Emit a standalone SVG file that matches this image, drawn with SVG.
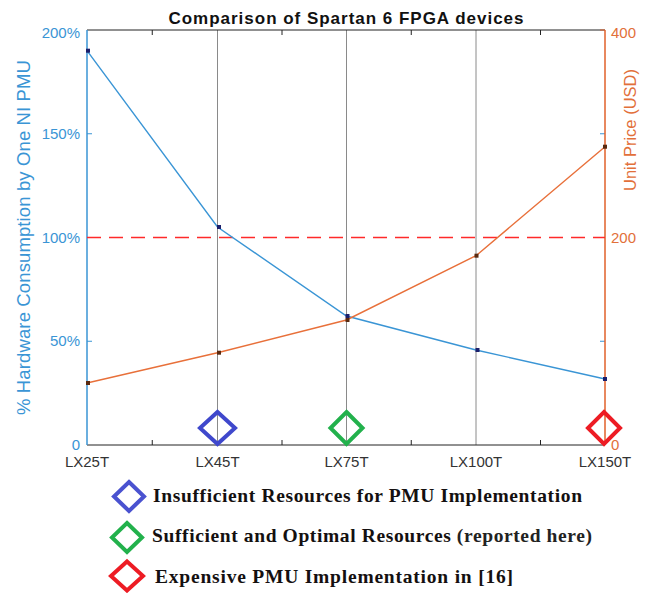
<svg xmlns="http://www.w3.org/2000/svg" width="651" height="593" viewBox="0 0 651 593">
<defs>
<style>
.sans{font-family:"Liberation Sans",Arial,sans-serif}
.blue{fill:#3a95d5}
.orng{fill:#e2703a}
.xt{font-size:15px;fill:#333;text-anchor:middle}
.leg{font-family:"Liberation Serif","Times New Roman",serif;font-size:19.5px;font-weight:bold;fill:#141010}
.grid{stroke:#8a8a8a;stroke-width:1}
.dia{fill:none;stroke-width:4;stroke-linejoin:miter}
</style>
<rect id="bm" x="-2" y="-2" width="4" height="4" fill="#1c1f6b"/>
<rect id="om" x="-2" y="-2" width="4" height="4" fill="#5a2a10"/>
</defs>
<rect width="651" height="593" fill="#fff"/>
<text class="sans" x="346" y="24" font-size="17" font-weight="bold" text-anchor="middle" fill="#111" textLength="355">Comparison of Spartan 6 FPGA devices</text>

<g id="axes">
<line class="grid" x1="217.5" y1="30" x2="217.5" y2="445"/>
<line class="grid" x1="346.5" y1="30" x2="346.5" y2="445"/>
<line class="grid" x1="476" y1="30" x2="476" y2="445"/>
<line x1="87" y1="30" x2="605" y2="30" stroke="#222" stroke-width="1"/>
<line x1="87" y1="445" x2="605" y2="445" stroke="#222" stroke-width="1"/>
<g stroke="#222" stroke-width="1">
<line x1="152.25" y1="30" x2="152.25" y2="35"/><line x1="282" y1="30" x2="282" y2="35"/><line x1="411.25" y1="30" x2="411.25" y2="35"/><line x1="540.5" y1="30" x2="540.5" y2="35"/>
<line x1="152.25" y1="445" x2="152.25" y2="440"/><line x1="282" y1="445" x2="282" y2="440"/><line x1="411.25" y1="445" x2="411.25" y2="440"/><line x1="540.5" y1="445" x2="540.5" y2="440"/>
</g>
<line x1="87" y1="30" x2="87" y2="445" stroke="#3a95d5" stroke-width="1.5"/>
<g stroke="#3a95d5" stroke-width="1">
<line x1="87" y1="133.75" x2="92" y2="133.75"/><line x1="87" y1="341.25" x2="92" y2="341.25"/>
<line x1="600" y1="133.75" x2="605" y2="133.75"/><line x1="600" y1="341.25" x2="605" y2="341.25"/>
</g>
<line x1="605" y1="30" x2="605" y2="445" stroke="#e0602a" stroke-width="1.5"/>
<line x1="600" y1="30" x2="605" y2="30" stroke="#e0602a" stroke-width="1"/>
<g class="sans blue" font-size="15" text-anchor="end">
<text x="80" y="38">200%</text>
<text x="80" y="139">150%</text>
<text x="80" y="243">100%</text>
<text x="80" y="346">50%</text>
<text x="80" y="450">0</text>
</g>
<g class="sans orng" font-size="15">
<text x="611" y="38">400</text>
<text x="611" y="243">200</text>
<text x="611" y="450">0</text>
</g>
<text class="sans blue" font-size="18.5" text-anchor="middle" transform="translate(30 237.5) rotate(-90)" textLength="355">% Hardware Consumption by One NI PMU</text>
<text class="sans orng" font-size="16.5" text-anchor="middle" transform="translate(636 130) rotate(-90)">Unit Price (USD)</text>
<g class="sans xt">
<text x="87" y="467">LX25T</text>
<text x="217.5" y="467">LX45T</text>
<text x="346.5" y="467">LX75T</text>
<text x="476" y="467">LX100T</text>
<text x="605" y="467">LX150T</text>
</g>
</g>

<g id="connectors">
<line x1="87" y1="237.5" x2="605" y2="237.5" stroke="#ff2a2a" stroke-width="1.5" stroke-dasharray="14 8"/>
<polyline points="87,50.7 217.5,227 346.5,316 476,350 605,379" fill="none" stroke="#3a95d5" stroke-width="1.4"/>
<polyline points="87,383 217.5,352.7 346.5,320 476,255.7 605,146.7" fill="none" stroke="#e8703a" stroke-width="1.4"/>
</g>

<g id="blue-markers">
<use href="#bm" x="88" y="50.7"/><use href="#bm" x="219" y="227"/><use href="#bm" x="347.5" y="316"/><use href="#bm" x="477.5" y="350"/><use href="#bm" x="605" y="379"/>
</g>
<g id="orange-markers">
<use href="#om" x="88" y="383"/><use href="#om" x="219" y="352.7"/><use href="#om" x="347.5" y="320"/><use href="#om" x="476.5" y="255.7"/><use href="#om" x="605" y="146.7"/>
</g>

<g id="diamond-lx45t"><polygon class="dia" stroke="#3f48cc" points="217.5,412 235,428 217.5,444 200,428"/></g>
<g id="diamond-lx75t"><polygon class="dia" stroke="#22b14c" points="346.5,412 362.5,428 346.5,444 330.5,428"/></g>
<g id="diamond-lx150t"><polygon class="dia" stroke="#ed1c24" points="604,412 620,428 604,444 588,428"/></g>

<g id="legend-1">
<polygon class="dia" stroke="#4a52d0" points="129,482 144,496.5 129,511 114,496.5"/>
<text class="leg" x="153" y="502" textLength="429">Insufficient Resources for PMU Implementation</text>
</g>
<g id="legend-2">
<polygon class="dia" stroke="#22b14c" points="127,523 142,537.5 127,552 112,537.5"/>
<text class="leg" x="152" y="542" textLength="440">Sufficient and Optimal Resources <tspan font-weight="600" fill="#222">(reported here)</tspan></text>
</g>
<g id="legend-3">
<polygon class="dia" stroke="#ed1c24" points="127,561.5 143,576 127,590.5 111,576"/>
<text class="leg" x="155" y="583" textLength="358">Expensive PMU Implementation in [16]</text>
</g>
</svg>
